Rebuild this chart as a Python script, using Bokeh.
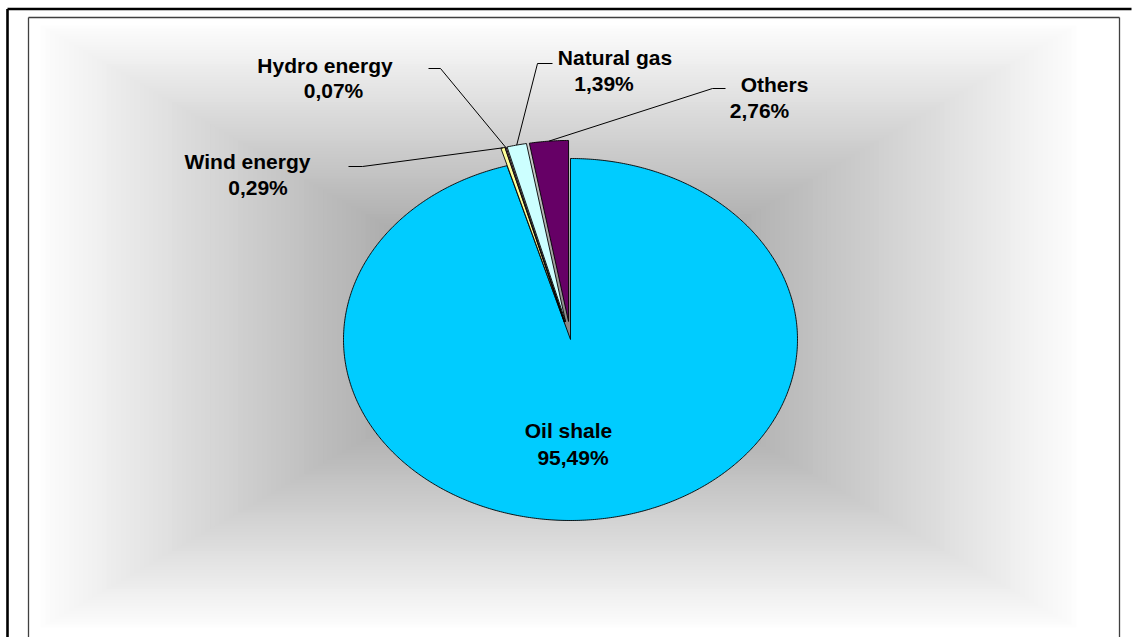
import numpy as np
from bokeh.plotting import figure
from bokeh.models import Range1d
from bokeh.embed import file_html
from bokeh.resources import INLINE
from bokeh.core.properties import value

# ---- data -------------------------------------------------------------
sources = ["Oil shale", "Wind energy", "Hydro energy", "Natural gas", "Others"]
shares = [95.49, 0.29, 0.07, 1.39, 2.76]          # percent of primary energy
slice_colors = ["#00CCFF", "#FFFF99", "#FF99CC", "#CCFFFF", "#660066"]
explode = [0.0, 0.1, 0.1, 0.1, 0.1]               # pull-out as fraction of radius

# ---- canvas (page pixels, y measured from the top) ----------------------
W, H = 1136, 637


def Y(y):
    return H - y


p = figure(width=W, height=H, x_range=Range1d(0, W), y_range=Range1d(0, H),
           output_backend="svg", toolbar_location=None,
           x_axis_type=None, y_axis_type=None, min_border=0)
p.outline_line_color = None
p.background_fill_color = "white"
p.border_fill_color = "white"

# rectangular "from centre" gray gradient behind the pie
gx0, gx1, gy0, gy1 = 40, 1076, 25, 627
gcx, gcy = (gx0 + gx1) / 2, (gy0 + gy1) / 2
steps = 110
ts = np.linspace(1.0, 0.0, steps, endpoint=False)
c_center = 135
grays = np.clip(c_center + (253 - c_center) * ts, 0, 255).astype(int)
p.quad(left=gcx - (gcx - gx0) * ts, right=gcx + (gx1 - gcx) * ts,
       top=Y(gcy - (gcy - gy0) * ts), bottom=Y(gcy + (gy1 - gcy) * ts),
       fill_color=["#%02x%02x%02x" % (g, g, g) for g in grays], line_color=None)

# frames
p.multi_line(xs=[[28, 28], [28, 1119], [1119, 1119]],
             ys=[[Y(637), Y(17)], [Y(17), Y(17)], [Y(17), Y(637)]],
             line_color="#404040", line_width=1.3)
p.multi_line(xs=[[7, 7], [7, 1131]],
             ys=[[Y(640), Y(8.5)], [Y(8.5), Y(8.5)]],
             line_color="black", line_width=2.6)

# ---- pie (elliptical, clockwise from 12 o'clock) -----------------------
cx, cy, rx, ry = 570, Y(339), 227, 181
frac = np.array(shares) / sum(shares)
ends = np.cumsum(frac) * 2 * np.pi
starts = ends - frac * 2 * np.pi

xs, ys, tips_out = [], [], []
for s, e, ex in zip(starts, ends, explode):
    mid = (s + e) / 2
    ox, oy = ex * rx * np.sin(mid), ex * ry * np.cos(mid)
    n = max(3, int((e - s) / (2 * np.pi) * 720))
    th = np.linspace(s, e, n)
    xs.append([cx + ox] + list(cx + ox + rx * np.sin(th)))
    ys.append([cy + oy] + list(cy + oy + ry * np.cos(th)))
    tips_out.append((cx + ox + rx * np.sin(mid), cy + oy + ry * np.cos(mid)))

p.patches(xs=xs, ys=ys, fill_color=slice_colors, line_color="black", line_width=0.9)

# ---- leader lines from labels to the small slices -----------------------
leader_start = {
    "Wind energy": [(348, 166), (362, 166)],
    "Hydro energy": [(428, 68), (440, 68)],
    "Natural gas": [(552, 63), (537, 63)],
    "Others": [(725, 88), (712, 88)],
}
lx, ly = [], []
for name, (tx, ty) in zip(sources, tips_out):
    if name in leader_start:
        pts = leader_start[name]
        lx.append([q[0] for q in pts] + [tx])
        ly.append([Y(q[1]) for q in pts] + [ty])
p.multi_line(xs=lx, ys=ly, line_color="black", line_width=1)

# ---- data labels -------------------------------------------------------
label_pos = {
    "Oil shale": ((568, 430), (572.5, 457)),
    "Wind energy": ((247, 161), (257.5, 187)),
    "Hydro energy": ((324.5, 65), (333, 90)),
    "Natural gas": ((614.5, 57), (603.5, 83)),
    "Others": ((774, 84), (759, 110)),
}
tx_, ty_, tt_ = [], [], []
for name, v in zip(sources, shares):
    (x1, y1), (x2, y2) = label_pos[name]
    tx_ += [x1, x2]
    ty_ += [Y(y1), Y(y2)]
    tt_ += [name, f"{v:.2f}".replace(".", ",") + "%"]
p.text(x=tx_, y=ty_, text=tt_, text_font=value("Liberation Sans"),
       text_font_style="bold", text_font_size="21px", text_color="black",
       text_align="center", text_baseline="alphabetic")

open("out.html", "w").write(file_html(p, INLINE))
